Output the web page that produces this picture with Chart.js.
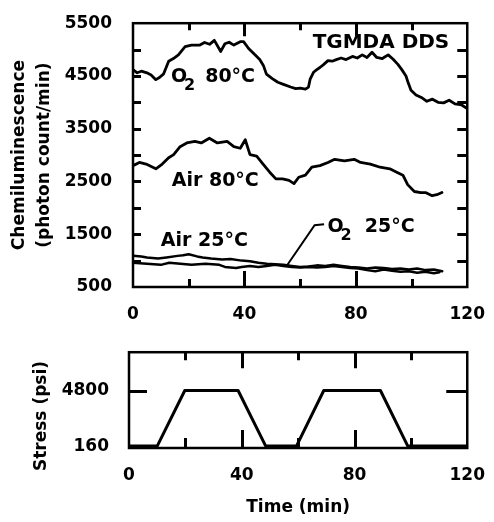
<!DOCTYPE html>
<html>
<head>
<meta charset="utf-8">
<script src="https://cdn.jsdelivr.net/npm/chart.js@4.4.0/dist/chart.umd.min.js"></script>
<style>
  html, body { margin:0; padding:0; background:#fff; }
  #wrap { position:relative; width:494px; height:522px; }
  #top { position:absolute; left:0; top:0; width:494px; height:330px; }
  #bot { position:absolute; left:0; top:330px; width:494px; height:192px; }
</style>
</head>
<body>
<div id="wrap">
  <canvas id="top" width="494" height="330"></canvas>
  <canvas id="bot" width="494" height="192"></canvas>
</div>
<script>
// ---- data ----
const xTicks = [0, 40, 80, 120];
const xMarks = [20, 40, 60, 80, 100];
const xMajor = [40, 80];
const yTicks = [500, 1500, 2500, 3500, 4500, 5500];
const yMarks = [1000, 1500, 2000, 2500, 3000, 3500, 4000, 4500, 5000];
const stressTicks = [160, 4800];

const o2_80_t = [0,1.5,3,5,6.5,8.2,9.5,11,12.8,14.5,16.3,18.7,21,24,25.7,27.5,29.2,31.5,33,34.5,36.2,38.5,39.7,41.5,43.8,45.5,46.8,47.9,50,52,54,56.6,58.4,60,61.9,63,63.6,64.8,66,67.1,68.5,70,71.5,73,74.7,76.5,78.8,80.5,82.3,84,85.8,87.5,89.5,91.6,93.3,95.1,96.5,98,98.8,99.8,101.6,103.9,105.5,107.5,109.5,111.5,113.5,115.6,118,120];
const o2_80 = [4620,4560,4590,4560,4520,4430,4470,4540,4780,4830,4900,5055,5085,5085,5135,5100,5175,4965,5110,5140,5085,5150,5150,5020,4900,4810,4700,4535,4450,4380,4340,4290,4260,4270,4250,4290,4440,4570,4620,4660,4720,4790,4780,4810,4840,4810,4870,4840,4900,4850,4950,4850,4830,4900,4820,4720,4620,4500,4370,4230,4140,4080,4020,4060,4000,3990,4040,3970,3950,3880];

const air80_t = [0,2.3,4.7,8.2,10.5,12.8,14.6,16.9,19.3,22.2,24.5,27.4,30.3,33.8,36.2,38.5,40.3,42,44.4,46.7,49,51.3,53.7,56,57.8,59.5,61.9,64.2,67.1,70,72.4,75.9,79.4,81.7,85.2,88.7,92.2,94.5,96.9,98.6,101,103.3,105,107.4,109.1,110.9];
const air80 = [2800,2860,2830,2740,2830,2950,3010,3160,3230,3260,3230,3320,3230,3260,3160,3130,3290,3010,2980,2830,2680,2550,2550,2520,2460,2580,2620,2770,2800,2860,2920,2890,2920,2860,2830,2770,2740,2680,2620,2440,2310,2290,2290,2230,2250,2290];

const air25_t = [0,3,5,9,12,16,18,20,23,25,28,32,35,39,42,45,48,51,54,57,60,63,66,69,72,75,78,81,84,87,90,93,96,99,102,105,108,111];
const air25 = [1090,1080,1060,1040,1060,1090,1100,1120,1080,1060,1040,1020,1030,1000,990,960,940,930,920,900,880,890,910,900,920,900,880,870,850,870,860,840,850,830,850,820,830,800];

const o2_25_t = [0,5,10,13,17,21,26,31,33,37,39,42,45,48,51,54,57,60,63,66,69,72,75,78,81,84,87,90,93,96,99,102,105,108,110];
const o2_25 = [960,940,920,960,940,920,940,920,880,860,880,900,880,900,920,900,880,870,880,870,880,900,880,860,850,820,800,830,810,790,800,770,790,760,780];

const stressT = [0,10,19.8,38.7,48.5,59.4,69.1,89.2,98.9,120];
const stress = [160,160,4800,4800,160,160,4800,4800,160,160];

// ---- helpers ----
const FONT = 'DejaVu Sans';
Chart.defaults.font.family = FONT;
Chart.defaults.color = '#000';

function pts(xs, ys){ return xs.map((x, i) => ({ x, y: ys[i] })); }
function line(xs, ys, w){
  return { data: pts(xs, ys), borderColor:'#000', borderWidth: w || 2.8, pointRadius:0,
           tension:0, borderJoinStyle:'round', borderCapStyle:'round', fill:false };
}
const tickFont = { family: FONT, size: 17, weight: 'bold' };
const plain = v => String(v);

// frame + inward tick marks, placed by the chart's own scales
function framePlugin(cfg){
  return {
    id: 'frame' + cfg.name,
    afterDatasetsDraw(chart){
      const ctx = chart.ctx;
      const a = chart.chartArea;
      const sx = chart.scales.x, sy = chart.scales.y;
      ctx.save();
      ctx.strokeStyle = '#000';
      ctx.lineWidth = 2.5;
      ctx.strokeRect(a.left, a.top, a.right - a.left, a.bottom - a.top);
      ctx.lineWidth = 3;
      ctx.beginPath();
      for (const v of xMarks) {
        const px = Math.round(sx.getPixelForValue(v)) + 0.5;
        const big = xMajor.indexOf(v) >= 0;
        ctx.moveTo(px, a.bottom); ctx.lineTo(px, a.bottom - (big ? cfg.xb[0] : cfg.xb[1]));
        ctx.moveTo(px, a.top); ctx.lineTo(px, a.top + (big ? cfg.xt[0] : cfg.xt[1]));
      }
      for (const v of cfg.yMarks) {
        const py = Math.round(sy.getPixelForValue(v)) + 0.5;
        ctx.moveTo(a.left, py); ctx.lineTo(a.left + cfg.yl, py);
        ctx.moveTo(a.right, py); ctx.lineTo(a.right - cfg.yr, py);
      }
      ctx.stroke();
      ctx.restore();
    }
  };
}

// curve labels
const notesPlugin = {
  id: 'notes',
  afterDraw(chart){
    const { ctx, scales: { x, y } } = chart;
    const big = 'bold 19px "DejaVu Sans"', sub = 'bold 16px "DejaVu Sans"';
    ctx.save();
    ctx.fillStyle = '#000';
    ctx.textAlign = 'left';
    ctx.textBaseline = 'alphabetic';
    const put = (s, t, v, f) => { ctx.font = f || big; ctx.fillText(s, x.getPixelForValue(t), y.getPixelForValue(v)); };
    const chem = (t, v, rest, gap) => {
      const px = x.getPixelForValue(t), py = y.getPixelForValue(v);
      ctx.font = big; ctx.fillText('O', px, py);
      const w = ctx.measureText('O').width;
      ctx.font = sub; ctx.fillText('2', px + w - 3, py + 8);
      const sw = ctx.measureText('2').width;
      ctx.font = big; ctx.fillText(rest, px + w - 3 + sw + gap, py);
    };
    put('TGMDA DDS', 64.5, 5024, 'bold 20px "DejaVu Sans"');
    chem(13.6, 4383, '80°C', 10);
    put('Air 80°C', 13.9, 2423);
    put('Air 25°C', 10.0, 1269);
    chem(69.8, 1544, '25°C', 13);
    // leader line to the O2 25°C curve
    ctx.strokeStyle = '#000';
    ctx.lineWidth = 2;
    ctx.beginPath();
    ctx.moveTo(x.getPixelForValue(68.6), y.getPixelForValue(1690));
    ctx.lineTo(x.getPixelForValue(65.2), y.getPixelForValue(1672));
    ctx.lineTo(x.getPixelForValue(55.2), y.getPixelForValue(903));
    ctx.stroke();
    ctx.restore();
  }
};

const stressTitle = {
  id: 'stressTitle',
  afterDraw(chart){
    const { ctx } = chart;
    ctx.save();
    ctx.font = 'bold 17px "DejaVu Sans"';
    ctx.fillStyle = '#000';
    ctx.textAlign = 'center';
    ctx.textBaseline = 'middle';
    ctx.translate(42, 86);
    ctx.rotate(-Math.PI / 2);
    ctx.fillText('Stress (psi)', 0, 0);
    ctx.restore();
  }
};

// ---- top chart: chemiluminescence ----
new Chart(document.getElementById('top'), {
  type: 'line',
  data: { datasets: [ line(o2_80_t, o2_80), line(air80_t, air80), line(air25_t, air25, 2.5), line(o2_25_t, o2_25, 2.5) ] },
  options: {
    responsive: false, animation: false,
    layout: { padding: { left: 0, top: 14, right: 18, bottom: 0 } },
    plugins: { legend: { display: false }, tooltip: { enabled: false } },
    scales: {
      x: {
        type: 'linear', min: 0, max: 120,
        afterBuildTicks: s => { s.ticks = xTicks.map(v => ({ value: v })); },
        afterFit: s => { s.height = 43; },
        grid: { display: false }, border: { display: false },
        ticks: { font: tickFont, color: '#000', padding: 9, maxRotation: 0, callback: plain }
      },
      y: {
        type: 'linear', min: 500, max: 5500,
        afterBuildTicks: s => { s.ticks = yTicks.map(v => ({ value: v })); },
        afterFit: s => { s.width = 133; },
        grid: { display: false }, border: { display: false },
        ticks: { font: tickFont, color: '#000', padding: 13, callback: plain },
        title: {
          display: true, text: ['Chemiluminescence', '(photon count/min)'], color: '#000',
          font: { family: FONT, size: 17, weight: 'bold', lineHeight: 25 / 17 },
          padding: { top: 7, bottom: 0 }
        }
      }
    }
  },
  plugins: [framePlugin({ name: 'A', yMarks: yMarks, xb: [16, 8], xt: [13, 7], yl: 8, yr: 10 }), notesPlugin]
});

// ---- bottom chart: stress ----
new Chart(document.getElementById('bot'), {
  type: 'line',
  data: { datasets: [ line(stressT, stress, 3) ] },
  options: {
    responsive: false, animation: false,
    layout: { padding: { left: 0, top: 15, right: 16, bottom: 0 } },
    plugins: { legend: { display: false }, tooltip: { enabled: false } },
    scales: {
      x: {
        type: 'linear', min: 0, max: 120,
        afterBuildTicks: s => { s.ticks = xTicks.map(v => ({ value: v })); },
        afterFit: s => { s.height = 74; },
        grid: { display: false }, border: { display: false },
        ticks: { font: tickFont, color: '#000', padding: 9, maxRotation: 0, callback: plain },
        title: {
          display: true, text: 'Time (min)', color: '#000',
          font: { family: FONT, size: 17, weight: 'bold', lineHeight: 1.2 },
          padding: { top: 0, bottom: 4 }
        }
      },
      y: {
        type: 'linear', min: 0, max: 8000,
        afterBuildTicks: s => { s.ticks = stressTicks.map(v => ({ value: v })); },
        afterFit: s => { s.width = 129; },
        grid: { display: false }, border: { display: false },
        ticks: { font: tickFont, color: '#000', padding: 12, callback: plain }
      }
    }
  },
  plugins: [framePlugin({ name: 'B', yMarks: stressTicks, xb: [18, 10], xt: [16, 8], yl: 18, yr: 21 }), stressTitle]
});
</script>
</body>
</html>
